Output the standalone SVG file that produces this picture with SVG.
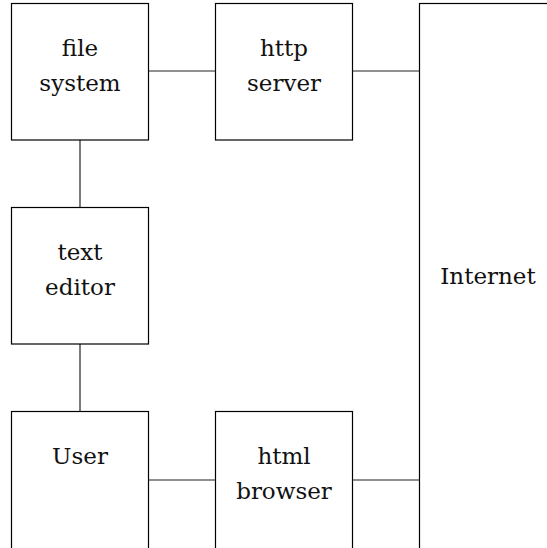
<svg xmlns="http://www.w3.org/2000/svg" width="547" height="548" viewBox="0 0 547 548">
<style>
.box{fill:#fff;stroke:#000;stroke-width:1.2}
.lbl{font-family:'DejaVu Serif','Liberation Serif',serif;font-size:23px;fill:#111;text-anchor:middle}
.conn{stroke:#222;stroke-width:1.2;fill:none}
</style>
<rect width="547" height="548" fill="#fff"/>
<g id="connectors">
<line class="conn" x1="148.5" y1="71" x2="215.5" y2="71"/>
<line class="conn" x1="352.5" y1="71" x2="419.5" y2="71"/>
<line class="conn" x1="80" y1="140" x2="80" y2="207.5"/>
<line class="conn" x1="80" y1="344" x2="80" y2="411.5"/>
<line class="conn" x1="148.5" y1="480" x2="215.5" y2="480"/>
<line class="conn" x1="352.5" y1="480" x2="419.5" y2="480"/>
</g>
<g id="internet">
<rect class="box" x="419.5" y="3.5" width="200" height="600"/>
<text class="lbl" x="488" y="284">Internet</text>
</g>
<g id="file-system">
<rect class="box" x="11.5" y="3.5" width="137" height="136.5"/>
<text class="lbl" x="80" y="56">file</text>
<text class="lbl" x="80" y="91">system</text>
</g>
<g id="http-server">
<rect class="box" x="215.5" y="3.5" width="137" height="136.5"/>
<text class="lbl" x="284" y="56">http</text>
<text class="lbl" x="284" y="91">server</text>
</g>
<g id="text-editor">
<rect class="box" x="11.5" y="207.5" width="137" height="136.5"/>
<text class="lbl" x="80" y="260">text</text>
<text class="lbl" x="80" y="295">editor</text>
</g>
<g id="user">
<rect class="box" x="11.5" y="411.5" width="137" height="200"/>
<text class="lbl" x="80" y="464">User</text>
</g>
<g id="html-browser">
<rect class="box" x="215.5" y="411.5" width="137" height="200"/>
<text class="lbl" x="284" y="464">html</text>
<text class="lbl" x="284" y="499">browser</text>
</g>
</svg>
